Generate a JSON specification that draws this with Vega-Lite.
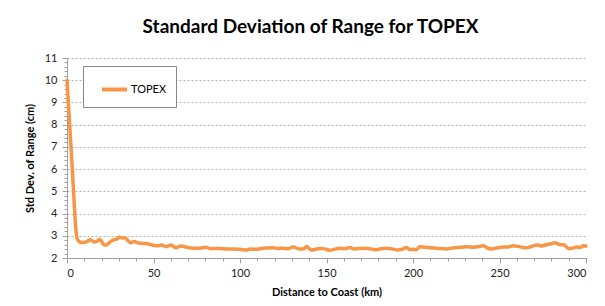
{
  "$schema": "https://vega.github.io/schema/vega-lite/v6.json",
  "width": 519,
  "height": 200,
  "autosize": {"type": "none"},
  "padding": {"left": 67, "top": 58, "right": 19, "bottom": 48},
  "background": "white",
  "title": {"text": "Standard Deviation of Range for TOPEX", "font": "Lato", "fontSize": 19, "fontWeight": "bold", "color": "#000000", "anchor": "middle", "dx": -16, "offset": 15},
  "config": {"view": {"stroke": null}},
  "data": {"values": [
    {"km":0,"sd":10},{"km":1,"sd":8.7},{"km":2,"sd":7.4},{"km":3,"sd":6.1},{"km":4,"sd":4.7},{"km":5,"sd":3.4},{"km":5.8,"sd":2.9},{"km":7,"sd":2.74},{"km":8.5,"sd":2.7},{"km":10,"sd":2.7},
    {"km":12,"sd":2.76},{"km":13.5,"sd":2.82},{"km":15.8,"sd":2.72},{"km":17.5,"sd":2.76},{"km":18.7,"sd":2.83},{"km":20,"sd":2.75},{"km":21,"sd":2.62},{"km":22.6,"sd":2.58},{"km":24,"sd":2.66},{"km":25.5,"sd":2.76},
    {"km":27.4,"sd":2.83},{"km":29,"sd":2.86},{"km":30.3,"sd":2.93},{"km":32,"sd":2.9},{"km":33.5,"sd":2.91},{"km":35,"sd":2.8},{"km":36.6,"sd":2.69},{"km":39,"sd":2.74},{"km":41,"sd":2.68},{"km":43,"sd":2.66},
    {"km":46.5,"sd":2.64},{"km":48.5,"sd":2.6},{"km":50.6,"sd":2.56},{"km":52.5,"sd":2.55},{"km":54.4,"sd":2.59},{"km":57.3,"sd":2.51},{"km":60.2,"sd":2.59},{"km":63,"sd":2.46},{"km":66,"sd":2.54},{"km":69,"sd":2.48},
    {"km":72,"sd":2.45},{"km":76.6,"sd":2.44},{"km":80.4,"sd":2.48},{"km":83,"sd":2.42},{"km":86.2,"sd":2.43},{"km":90,"sd":2.42},{"km":95.9,"sd":2.4},{"km":100,"sd":2.39},{"km":103.6,"sd":2.36},{"km":106,"sd":2.4},
    {"km":109.4,"sd":2.39},{"km":113,"sd":2.44},{"km":119,"sd":2.46},{"km":122,"sd":2.43},{"km":124.9,"sd":2.44},{"km":128,"sd":2.42},{"km":130.6,"sd":2.5},{"km":134.5,"sd":2.4},{"km":137,"sd":2.42},{"km":138.4,"sd":2.52},
    {"km":141.3,"sd":2.36},{"km":146,"sd":2.43},{"km":149,"sd":2.41},{"km":151.9,"sd":2.35},{"km":155,"sd":2.4},{"km":157.7,"sd":2.44},{"km":160.5,"sd":2.42},{"km":163.5,"sd":2.47},{"km":166,"sd":2.4},{"km":168.5,"sd":2.43},
    {"km":171.2,"sd":2.44},{"km":175,"sd":2.42},{"km":178.9,"sd":2.37},{"km":181.5,"sd":2.42},{"km":184.7,"sd":2.44},{"km":188,"sd":2.41},{"km":191.4,"sd":2.36},{"km":194,"sd":2.4},{"km":196.3,"sd":2.47},{"km":198,"sd":2.38},
    {"km":200.1,"sd":2.39},{"km":201.8,"sd":2.37},{"km":203.9,"sd":2.51},{"km":207,"sd":2.48},{"km":211.7,"sd":2.45},{"km":215,"sd":2.43},{"km":219.5,"sd":2.41},{"km":222,"sd":2.44},{"km":225.3,"sd":2.47},{"km":228,"sd":2.48},
    {"km":231,"sd":2.51},{"km":234.9,"sd":2.48},{"km":238,"sd":2.52},{"km":240.7,"sd":2.55},{"km":243,"sd":2.45},{"km":245.5,"sd":2.41},{"km":249,"sd":2.46},{"km":252.2,"sd":2.5},{"km":255,"sd":2.5},{"km":258,"sd":2.55},
    {"km":262,"sd":2.5},{"km":265.8,"sd":2.46},{"km":268.5,"sd":2.52},{"km":271.6,"sd":2.59},{"km":274,"sd":2.54},{"km":277,"sd":2.6},{"km":280,"sd":2.64},{"km":282.2,"sd":2.69},{"km":285.1,"sd":2.6},{"km":287,"sd":2.6},
    {"km":289.9,"sd":2.43},{"km":292,"sd":2.44},{"km":294.7,"sd":2.49},{"km":296.5,"sd":2.47},{"km":298.5,"sd":2.55},{"km":300,"sd":2.54}
  ]},
  "layer": [
    {
      "mark": {"type": "line", "strokeOpacity": 0},
      "encoding": {
        "x": {"field": "km", "type": "quantitative", "scale": {"domain": [0, 300], "nice": false},
              "axis": {"orient": "bottom", "values": [0,10,20,30,40,50,60,70,80,90,100,110,120,130,140,150,160,170,180,190,200,210,220,230,240,250,260,270,280,290,300], "labels": false, "domain": false, "grid": false, "tickColor": "#a0a0a0", "tickSize": 3, "title": null}},
        "y": {"field": "sd", "type": "quantitative", "scale": {"domain": [2, 11], "nice": false, "zero": false},
              "axis": {"orient": "left", "values": [2,2.2,2.4,2.6,2.8,3,3.2,3.4,3.6,3.8,4,4.2,4.4,4.6,4.8,5,5.2,5.4,5.6,5.8,6,6.2,6.4,6.6,6.8,7,7.2,7.4,7.6,7.8,8,8.2,8.4,8.6,8.8,9,9.2,9.4,9.6,9.8,10,10.2,10.4,10.6,10.8,11], "labels": false, "domain": false, "grid": false, "tickColor": "#a0a0a0", "tickSize": 3, "title": null}}
      }
    },
    {
      "mark": {"type": "line", "strokeWidth": 3.5, "interpolate": "monotone", "strokeCap": "round", "strokeJoin": "round"},
      "encoding": {
        "x": {"field": "km", "type": "quantitative", "scale": {"domain": [0, 300], "nice": false},
              "axis": {"orient": "bottom", "values": [0,50,100,150,200,250,300], "grid": false, "domainColor": "#a0a0a0", "tickColor": "#a0a0a0", "tickSize": 5, "labelFont": "Lato", "labelFontSize": 11, "labelColor": "#222222", "labelPadding": 4, "title": "Distance to Coast (km)", "titleFont": "Lato", "titleFontSize": 11, "titleFontWeight": "bold", "titleColor": "#000000", "titlePadding": 8}},
        "y": {"field": "sd", "type": "quantitative", "scale": {"domain": [2, 11], "nice": false, "zero": false},
              "axis": {"orient": "left", "values": [2,3,4,5,6,7,8,9,10,11], "grid": true, "gridColor": "#b0b0b0", "gridDash": [2, 2], "domainColor": "#a0a0a0", "tickColor": "#a0a0a0", "tickSize": 5, "labelFont": "Lato", "labelFontSize": 11, "labelColor": "#222222", "labelPadding": 5, "title": "Std Dev. of Range (cm)", "titleFont": "Lato", "titleFontSize": 11, "titleFontWeight": "bold", "titleColor": "#000000", "titlePadding": 9}},
        "color": {"datum": "TOPEX", "type": "nominal", "scale": {"range": ["#F79646"]},
                  "legend": {"title": null, "orient": "none", "legendX": 16, "legendY": 8, "strokeColor": "#888888", "fillColor": "white", "padding": 9, "symbolType": "stroke", "symbolStrokeWidth": 4, "symbolSize": 625, "symbolOffset": 8, "labelFont": "Lato", "labelFontSize": 11, "labelColor": "#000000", "labelOffset": 2}}
      }
    }
  ],
  "resolve": {"axis": {"x": "independent", "y": "independent"}}
}
